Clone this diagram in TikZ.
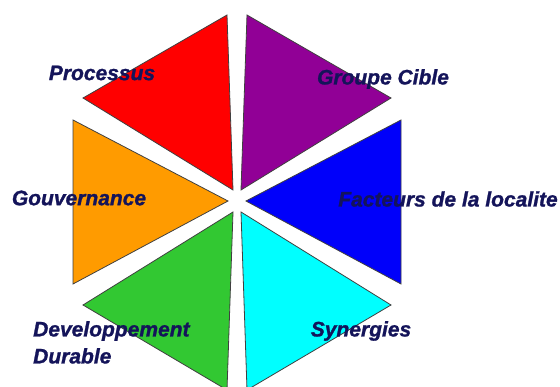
\documentclass[tikz,border=0pt]{standalone}
\usepackage{fontspec}
\setmainfont{Liberation Sans}
\definecolor{labelnavy}{RGB}{20,20,90}
\definecolor{cRed}{RGB}{255,0,0}
\definecolor{cPurple}{RGB}{145,0,150}
\definecolor{cBlue}{RGB}{0,0,250}
\definecolor{cCyan}{RGB}{0,255,255}
\definecolor{cGreen}{RGB}{50,200,50}
\definecolor{cOrange}{RGB}{255,155,0}
\tikzset{
  wedge/.style={draw=black!75, line width=0.8pt, line join=miter},
  lbl/.style={text=labelnavy, font=\fontsize{21}{27}\selectfont\bfseries\itshape\addfontfeature{FakeBold=1.2}, inner sep=0pt}
}
\begin{document}
\begin{tikzpicture}[x=1pt,y=-1pt]
\useasboundingbox (0,0) rectangle (560,387);
\begin{scope}
\clip (0,0) rectangle (560,387);
\fill[white] (0,0) rectangle (560,387);
% triangles
\filldraw[wedge, fill=cRed]    (227,15) -- (83,98)   -- (233,190) -- cycle;
\filldraw[wedge, fill=cPurple] (247,15) -- (391,98)  -- (241,190) -- cycle;
\filldraw[wedge, fill=cBlue]   (401,120) -- (401,284) -- (246,201) -- cycle;
\filldraw[wedge, fill=cCyan]   (391,305) -- (247,390) -- (241,212) -- cycle;
\filldraw[wedge, fill=cGreen]  (83,305) -- (227,390)  -- (233,212) -- cycle;
\filldraw[wedge, fill=cOrange] (73,120) -- (73,284)   -- (228,201) -- cycle;
\end{scope}
% labels
\node[lbl] (processus) at (102,73) {Processus};
\node[lbl] (groupe) at (383,79) {Groupe Cible};
\node[lbl] (gouv) at (79,198) {Gouvernance};
\node[lbl] (facteurs) at (448,199) {Facteurs de la localite};
\node[lbl] (synergies) at (361,331) {Synergies};
\node[lbl, align=left, anchor=north west] (dev) at (33,321) {Developpement\\Durable};
\end{tikzpicture}
\end{document}
